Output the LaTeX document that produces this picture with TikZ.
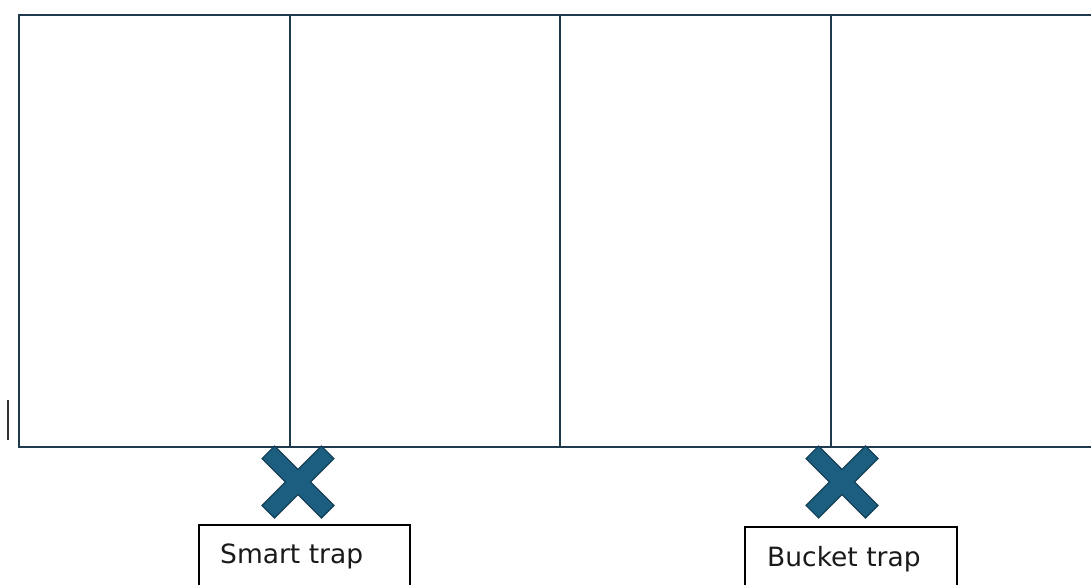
\documentclass[tikz,border=0pt]{standalone}
\usepackage{fontspec}
\setmainfont{DejaVu Sans}
\definecolor{frameline}{HTML}{1E3A4C}
\definecolor{crossfill}{HTML}{1B5E80}
\definecolor{crossedge}{HTML}{123F58}
\definecolor{tickgray}{HTML}{333333}
\definecolor{labeltext}{HTML}{1A1A1A}
\tikzset{
  frame/.style={draw=frameline, line width=2.2pt},
  trapbox/.style={draw=black, line width=1.8pt, rectangle, inner sep=0pt},
  traplabel/.style={anchor=base west, inner sep=0pt, font=\fontsize{26.5}{30}\selectfont, text=labeltext},
  crossmark/.style={fill=crossfill, draw=crossedge, line width=1.2pt, line join=miter}
}
\begin{document}
\begin{tikzpicture}[x=1pt, y=-1pt]
  \useasboundingbox (0,0) rectangle (1091,584);
  \clip (0,0) rectangle (1091,584);
  \fill[white] (0,0) rectangle (1091,584);

  % open-ended frame with three dividers
  \coordinate (tl) at (19,15);
  \coordinate (bl) at (19,447);
  \coordinate (tr) at (1100,15);
  \coordinate (br) at (1100,447);
  \draw[frame] (tr) -- (tl) -- (bl) -- (br);
  \foreach \xx [count=\i] in {290,560,831} {
    \coordinate (dtop\i) at (\xx,15);
    \coordinate (dbot\i) at (\xx,447);
    \draw[frame] (dtop\i) -- (dbot\i);
  }

  % small tick left of the frame
  \coordinate (tickA) at (8,400);
  \coordinate (tickB) at (8,440);
  \draw[tickgray, line width=2.6pt] (tickA) -- (tickB);

  % trap markers
  \foreach \cx/\cy in {298/482, 842/482} {
    \begin{scope}[shift={(\cx,\cy)}, rotate=45]
      \def\w{8.8}\def\L{42}
      \draw[crossmark] (\L,\w) -- (\w,\w) -- (\w,\L) -- (-\w,\L) -- (-\w,\w) -- (-\L,\w)
        -- (-\L,-\w) -- (-\w,-\w) -- (-\w,-\L) -- (\w,-\L) -- (\w,-\w) -- (\L,-\w) -- cycle;
    \end{scope}
  }

  % trap label boxes
  \node[trapbox, minimum width=211pt, minimum height=100pt, anchor=north west] (smartbox) at (198,524) {};
  \node[trapbox, minimum width=212pt, minimum height=100pt, anchor=north west] (bucketbox) at (744,526) {};
  \node[traplabel] (smart) at (220,563) {Smart trap};
  \node[traplabel] (bucket) at (767,566) {Bucket trap};
\end{tikzpicture}
\end{document}
